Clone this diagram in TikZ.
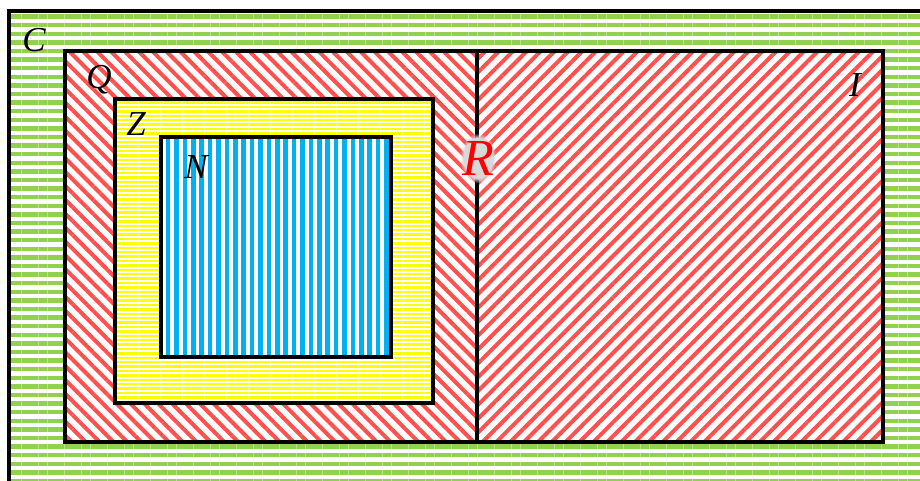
\documentclass[tikz,border=0pt]{standalone}
\usepackage{fontspec}
\setmainfont{Liberation Serif}
\usetikzlibrary{patterns.meta,fadings}
\definecolor{setgreen}{HTML}{92D050}
\definecolor{setred}{HTML}{FF5050}
\definecolor{setyellow}{HTML}{FFFF00}
\definecolor{setblue}{HTML}{00B0F0}
\definecolor{haloGray}{HTML}{D8D8D8}

\begin{document}
\begin{tikzpicture}[x=1pt,y=-1pt]
\tikzset{region/.style={draw=black,line width=3.2pt,preaction={fill=white}},
  setlabel/.style={font=\itshape\fontsize{35}{35}\selectfont,inner sep=0pt}}
\useasboundingbox (0,0) rectangle (920,481);
\clip (0,0) rectangle (920,481);
\fill[white] (0,0) rectangle (920,481);
% complex numbers
\draw[region,line width=4pt,pattern={Lines[angle=0,distance=8.6pt,line width=4.4pt]},pattern color=setgreen] (9,11) rectangle (950,510);
% rationals and irrationals
\draw[region,pattern={Lines[angle=-45,distance=9.8pt,line width=4pt]},pattern color=setred] (65,51) rectangle (477,442);
\draw[region,pattern={Lines[angle=45,distance=9.8pt,line width=4pt]},pattern color=setred] (477,51) rectangle (883,442);
% integers
\draw[region,pattern={Lines[angle=0,distance=4.4pt,line width=2.4pt]},pattern color=setyellow] (115,99) rectangle (433,403);
% naturals
\draw[region,pattern={Lines[angle=90,distance=8.4pt,line width=4.6pt]},pattern color=setblue] (161,137) rectangle (391,357);
\node[setlabel] (lblC) at (34,40) {C};
\node[setlabel] (lblQ) at (99,80) {Q};
\node[setlabel] (lblZ) at (136,124) {Z};
\node[setlabel] (lblN) at (196,167) {N};
\node[setlabel] (lblI) at (855,85) {I};
% real numbers, with a soft halo
\fill[haloGray,path fading=circle with fuzzy edge 20 percent] (478,158) ellipse (18pt and 25pt);
\node[setlabel,font=\itshape\fontsize{52}{52}\selectfont,text=red] (lblR) at (478,158) {R};
\end{tikzpicture}
\end{document}
